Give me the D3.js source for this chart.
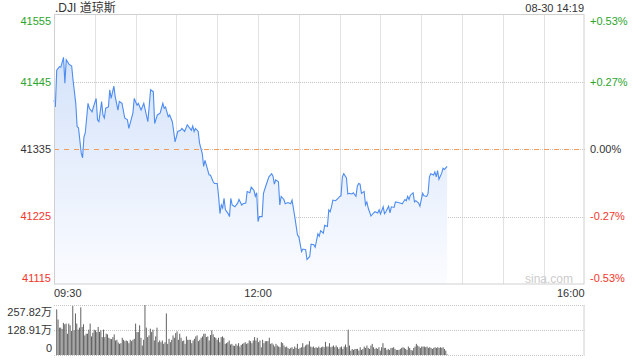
<!DOCTYPE html>
<html>
<head>
<meta charset="utf-8">
<script src="https://cdn.jsdelivr.net/npm/d3@7"></script>
<style>
  html, body { margin: 0; padding: 0; background: #fff; }
  svg { display: block; font-family: "Liberation Sans", Arial, "Noto Sans CJK SC", sans-serif; }
</style>
</head>
<body>
<div id="chart"></div>
<script>
// minutes after 09:30 and index level
const minutes = [0,1,2,4,5,7,8,9,11,13,14,16,17,18,20,21,22,23,25,26,28,29,31,32,33,35,36,37,38,40,41,42,44,45,47,48,50,52,54,55,58,59,61,62,64,66,69,71,73,74,76,78,80,81,82,84,85,87,88,89,91,93,94,96,98,99,101,102,103,104,106,107,109,110,111,112,114,115,117,118,120,121,122,123,124,125,126,128,129,130,131,133,135,136,138,139,141,142,144,145,147,148,149,150,151,153,154,156,158,160,161,162,163,165,166,167,169,170,172,174,175,177,179,180,182,183,185,186,188,189,191,192,194,195,196,198,199,201,202,203,204,205,207,209,210,211,212,213,215,216,217,219,220,222,223,224,225,226,228,229,230,231,233,235,236,238,239,240,242,243,244,246,247,248,250,251,253,255,256,258,259,260,261,262,264,265,266,268,269,271,272,274,275,276,277,279,280,281,282,283,285,286,287,289];
const prices = [41415,41404,41464,41470,41469,41485,41443,41481,41474,41471,41448,41410,41372,41370,41329,41321,41355,41362,41410,41402,41396,41404,41418,41383,41380,41413,41391,41386,41402,41404,41432,41418,41438,41421,41399,41413,41410,41386,41383,41369,41394,41418,41407,41410,41399,41410,41380,41432,41429,41377,41391,41394,41410,41402,41404,41388,41391,41380,41364,41347,41364,41366,41369,41364,41375,41372,41366,41373,41364,41369,41364,41345,41328,41307,41317,41309,41293,41293,41282,41279,41279,41258,41230,41244,41239,41255,41236,41230,41225,41255,41244,41241,41247,41253,41244,41246,41247,41266,41264,41273,41268,41258,41264,41217,41225,41225,41263,41277,41290,41295,41291,41278,41285,41282,41244,41258,41253,41246,41248,41246,41252,41225,41195,41192,41168,41172,41171,41155,41160,41180,41179,41175,41197,41193,41202,41198,41211,41209,41236,41233,41241,41252,41251,41255,41258,41259,41290,41295,41288,41262,41263,41262,41264,41258,41275,41279,41278,41263,41266,41244,41249,41239,41226,41231,41233,41231,41236,41229,41241,41230,41233,41242,41231,41241,41240,41249,41248,41247,41246,41253,41251,41258,41253,41260,41264,41249,41251,41247,41242,41263,41259,41258,41263,41290,41295,41293,41298,41290,41300,41286,41296,41304,41302,41307];

// per-minute volume, in 万
const volumes = [235.2,182.9,141.1,141.1,134.1,165.5,158.5,162,109.7,162,153.3,123.7,252.6,127.2,214.3,162,130.7,141.1,245.6,144.6,158.5,101,109.7,109.7,130.7,162,95.8,115,130.7,127.2,118.5,144.6,118.5,127.2,92.3,130.7,92.3,109.7,106.3,88.8,83.6,81.9,92.3,106.3,74.9,78.4,64.5,57.5,61,88.8,78.4,71.4,74.9,71.4,61,78.4,71.4,78.4,83.6,162,118.5,118.5,153.3,88.8,48.8,78.4,
  257.8,141.1,92.3,101,135.9,118.5,130.7,74.9,95.8,141.1,66.2,74.9,66.2,74.9,57.5,66.2,214.3,57.5,83.6,66.2,78.4,101,88.8,113.2,121.9,78.4,109.7,88.8,71.4,74.9,57.5,95.8,78.4,78.4,78.4,61,74.9,83.6,95.8,101,71.4,78.4,88.8,95.8,109.7,109.7,92.3,95.8,74.9,102.8,127.2,106.3,
  92.3,88.8,78.4,88.8,66.2,92.3,95.8,88.8,57.5,61,66.2,74.9,54,57.5,48.8,47,57.5,48.8,61,43.6,52.3,57.5,61,66.2,57.5,61,74.9,71.4,61,74.9,92.3,74.9,88.8,66.2,74.9,40.1,78.4,61,71.4,71.4,71.4,88.8,57.5,61,54,
  43.6,57.5,48.8,43.6,40.1,66.2,61,48.8,40.1,43.6,36.6,31.4,36.6,40.1,31.4,43.6,36.6,57.5,31.4,36.6,40.1,61,40.1,48.8,54,54,71.4,43.6,40.1,43.6,36.6,40.1,36.6,43.6,36.6,40.1,43.6,40.1,67.9,43.6,43.6,61,40.1,43.6,48.8,40.1,48.8,40.1,31.4,40.1,43.6,31.4,43.6,54,40.1,
  130.7,48.8,22.6,31.4,26.1,31.4,31.4,31.4,22.6,40.1,26.1,31.4,43.6,36.6,48.8,36.6,31.4,48.8,57.5,40.1,31.4,36.6,31.4,40.1,22.6,40.1,61,36.6,36.6,26.1,31.4,26.1,36.6,36.6,40.1,31.4,26.1,26.1,26.1,31.4,36.6,40.1,36.6,31.4,26.1,43.6,36.6,26.1,22.6,36.6,43.6,57.5,48.8,43.6,36.6,43.6,43.6,43.6,40.1,43.6,36.6,40.1,36.6,31.4,36.6,40.1,36.6,40.1,36.6,40.1,36.6,40.1,31.4,22.6,3.5];

const priceTicks = [41555, 41445, 41335, 41225, 41115];
const pctLabels = ["+0.53%", "+0.27%", "0.00%", "-0.27%", "-0.53%"];
const timeTicks = [0, 150, 390];
const timeLabels = ["09:30", "12:00", "16:00"];
const volTicks = [257.82, 128.91, 0];
const volLabels = ["257.82万", "128.91万", "0"];
const prevClose = 41335;

const width = 640, height = 360;
const plotLeft = 54, plotRight = 584.5;
const plotTop = 14.5, plotBottom = 284;
const volTop = 305, volBottom = 355;

const green = "#2ba52b", red = "#f2362a", dark = "#333";
const grid = "#c4c4c4";

function tickColor(v) {
    if (v > prevClose) return green;
    if (v < prevClose) return red;
    return dark;
}

const svg = d3.select("#chart").append("svg")
    .attr("width", width)
    .attr("height", height);

const x = d3.scaleLinear().domain([0, 390]).range([plotLeft, plotRight]);
const y = d3.scaleLinear().domain([41115, 41555]).range([plotBottom, plotTop]);
const yVol = d3.scaleLinear().domain([0, 257.82]).range([volBottom, volTop]);

// gradient for the area under the line
const grad = svg.append("defs").append("linearGradient")
    .attr("id", "fillGrad")
    .attr("gradientUnits", "userSpaceOnUse")
    .attr("x1", 0).attr("y1", plotTop).attr("x2", 0).attr("y2", plotBottom);
grad.append("stop").attr("offset", 0).attr("stop-color", "#cddef9");
grad.append("stop").attr("offset", 1).attr("stop-color", "#fbfcff");

// vertical grid, every 30 minutes
const vLines = d3.range(30, 390, 30);
svg.append("g").selectAll("line")
    .data(vLines)
    .enter().append("line")
    .attr("x1", d => Math.round(x(d)) + 0.5)
    .attr("x2", d => Math.round(x(d)) + 0.5)
    .attr("y1", plotTop)
    .attr("y2", plotBottom)
    .attr("stroke", grid)
    .attr("stroke-dasharray", "1,1");

// horizontal grid
svg.append("g").selectAll("line")
    .data(priceTicks.filter((d, i) => i > 0 && i < priceTicks.length - 1))
    .enter().append("line")
    .attr("x1", plotLeft)
    .attr("x2", plotRight)
    .attr("y1", d => Math.round(y(d)) + 0.5)
    .attr("y2", d => Math.round(y(d)) + 0.5)
    .attr("stroke", grid)
    .attr("stroke-dasharray", "1,1");

// area + line
const points = minutes.map((m, i) => ({m: m, p: prices[i]}));

svg.append("path")
    .datum(points)
    .attr("fill", "url(#fillGrad)")
    .attr("d", d3.area().x(d => x(d.m)).y0(plotBottom).y1(d => y(d.p)));

// previous close line
svg.append("line")
    .attr("x1", plotLeft)
    .attr("x2", plotRight)
    .attr("y1", Math.round(y(prevClose)) + 0.5)
    .attr("y2", Math.round(y(prevClose)) + 0.5)
    .attr("stroke", "#f39a58")
    .attr("stroke-dasharray", "5,5");

svg.append("path")
    .datum(points)
    .attr("fill", "none")
    .attr("stroke", "#4d8cf0")
    .attr("stroke-width", 1.1)
    .attr("d", d3.line().x(d => x(d.m)).y(d => y(d.p)));

// border
svg.append("rect")
    .attr("x", plotLeft + 0.5)
    .attr("y", plotTop)
    .attr("width", plotRight - plotLeft - 1)
    .attr("height", plotBottom - plotTop)
    .attr("fill", "none")
    .attr("stroke", "#d0d0d0");

// watermark
svg.append("text")
    .attr("x", 573)
    .attr("y", 283)
    .attr("text-anchor", "end")
    .attr("font-size", 12)
    .attr("fill", "#cccccc")
    .text("sina.com");

// left price labels
svg.append("g").selectAll("text")
    .data(priceTicks)
    .enter().append("text")
    .attr("x", 51)
    .attr("y", d => Math.min(Math.max(y(d), 21), 278))
    .attr("dy", "0.35em")
    .attr("text-anchor", "end")
    .attr("font-size", 11)
    .attr("fill", d => tickColor(d))
    .text(d => d);

// right percent labels
svg.append("g").selectAll("text")
    .data(priceTicks)
    .enter().append("text")
    .attr("x", 590)
    .attr("y", d => Math.min(Math.max(y(d), 21), 278))
    .attr("dy", "0.35em")
    .attr("font-size", 11)
    .attr("fill", d => tickColor(d))
    .text((d, i) => pctLabels[i]);

// time labels
svg.append("g").selectAll("text")
    .data(timeTicks)
    .enter().append("text")
    .attr("x", d => x(d))
    .attr("y", 297)
    .attr("text-anchor", (d, i) => i == 0 ? "start" : (i == timeTicks.length - 1 ? "end" : "middle"))
    .attr("font-size", 11)
    .attr("fill", dark)
    .text((d, i) => timeLabels[i]);

// title and date
svg.append("text")
    .attr("x", 55)
    .attr("y", 12)
    .attr("font-size", 12)
    .attr("fill", dark)
    .text(".DJI 道琼斯");

svg.append("text")
    .attr("x", plotRight - 0.5)
    .attr("y", 12)
    .attr("text-anchor", "end")
    .attr("font-size", 11)
    .attr("fill", dark)
    .text("08-30 14:19");

// volume panel
svg.append("g").selectAll("line")
    .data(volTicks)
    .enter().append("line")
    .attr("x1", plotLeft)
    .attr("x2", plotRight)
    .attr("y1", d => Math.round(yVol(d)) + 0.5)
    .attr("y2", d => Math.round(yVol(d)) + 0.5)
    .attr("stroke", grid)
    .attr("stroke-dasharray", "1,1");

svg.append("line")
    .attr("x1", plotRight - 0.5)
    .attr("x2", plotRight - 0.5)
    .attr("y1", volTop)
    .attr("y2", volBottom)
    .attr("stroke", "#d0d0d0");

const xVol = d3.scaleLinear().domain([0, volumes.length - 1]).range([x(2), x(289)]);

svg.append("g").selectAll("rect")
    .data(volumes)
    .enter().append("rect")
    .attr("x", (d, i) => xVol(i) - 0.5)
    .attr("y", d => yVol(d))
    .attr("width", 1)
    .attr("height", d => volBottom - yVol(d))
    .attr("fill", "#626262");

svg.append("g").selectAll("text")
    .data(volTicks)
    .enter().append("text")
    .attr("x", 52)
    .attr("y", d => Math.min(Math.max(yVol(d), 312), 348))
    .attr("dy", "0.35em")
    .attr("text-anchor", "end")
    .attr("font-size", 11)
    .attr("fill", dark)
    .text((d, i) => volLabels[i]);
</script>
</body>
</html>
